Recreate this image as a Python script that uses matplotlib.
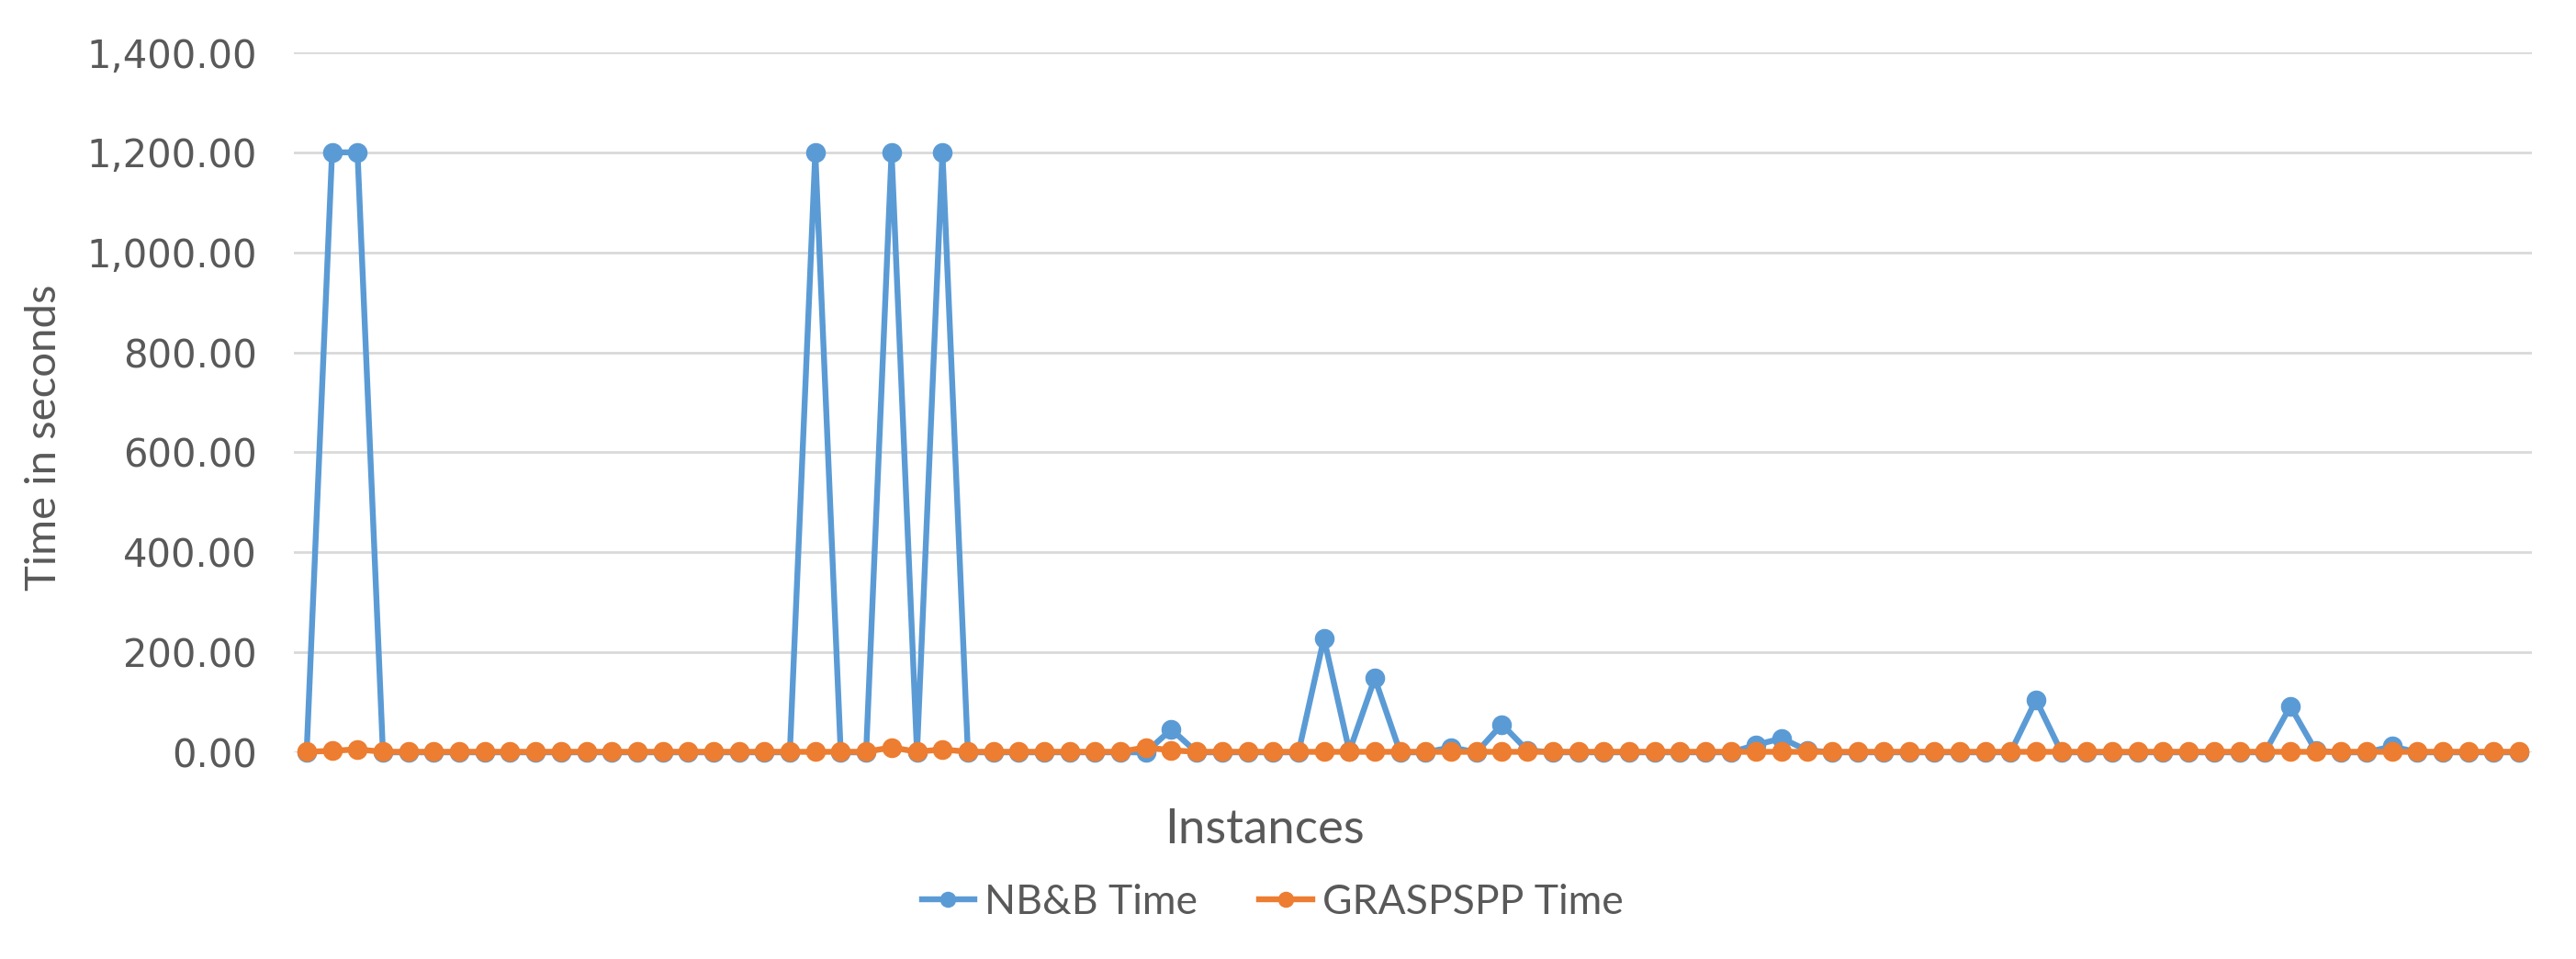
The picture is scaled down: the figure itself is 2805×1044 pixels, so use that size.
import matplotlib
matplotlib.use("Agg")
import matplotlib.pyplot as plt
from matplotlib.ticker import FuncFormatter
import numpy as np

# ---- data (88 instances) ----
nbb_time = [
    0, 1200, 1200, 0, 0, 0, 0, 0, 0, 0,
    0, 0, 0, 0, 0, 0, 0, 0, 0, 0,
    1200, 0, 0, 1200, 0, 1200, 0, 0, 0, 0,
    0, 0, 0, 0, 46, 0, 0, 0, 0, 0,
    228, 2, 148, 0, 0, 10, 0, 56, 4, 0,
    0, 0, 0, 0, 0, 0, 0, 15, 28, 4,
    0, 0, 0, 0, 0, 0, 0, 0, 105, 0,
    0, 0, 0, 0, 0, 0, 0, 0, 92, 3,
    0, 0, 12, 0, 0, 0, 0, 0,
]
grasp_time = [
    1, 3, 6, 1, 1, 1, 1, 1, 1, 1,
    1, 1, 1, 1, 1, 1, 1, 1, 1, 1,
    1, 1, 1, 10, 1, 6, 1, 1, 1, 1,
    1, 1, 1, 10, 4, 1, 1, 1, 1, 1,
    1, 1, 1, 1, 1, 1, 1, 1, 1, 1,
    1, 1, 1, 1, 1, 1, 1, 1, 1, 1,
    1, 1, 1, 1, 1, 1, 1, 1, 1, 1,
    1, 1, 1, 1, 1, 1, 1, 1, 1, 1,
    1, 1, 1, 1, 1, 1, 1, 1,
]
series_names = ["NB&B Time", "GRASPSPP Time"]
y_ticks = [0, 200, 400, 600, 800, 1000, 1200, 1400]
x_title = "Instances"
y_title = "Time in seconds"

BLUE = "#5B9BD5"
ORANGE = "#ED7D31"
TEXT = "#595959"
GRID = "#D9D9D9"

fig = plt.figure(figsize=(28.05, 10.44), dpi=100)
ax = fig.add_axes([0.1141, 0.2155, 0.9829 - 0.1141, 0.9454 - 0.2155])

x = np.arange(len(nbb_time))
ax.plot(x, nbb_time, color=BLUE, lw=4.6, marker="o", markersize=14.5,
        label=series_names[0], clip_on=False, zorder=3)
ax.plot(x, grasp_time, color=ORANGE, lw=4.6, marker="o", markersize=14.5,
        label=series_names[1], clip_on=False, zorder=4)

ax.set_xlim(-0.5, len(nbb_time) - 0.5)
ax.set_ylim(0, 1400)
ax.set_yticks(y_ticks)
ax.yaxis.set_major_formatter(FuncFormatter(lambda v, p: f"{v:,.2f}"))
ax.set_xticks([])
ax.tick_params(axis="y", length=0, pad=29, labelsize=30, labelcolor=TEXT)
for lab in ax.get_yticklabels():
    lab.set_family("DejaVu Sans")
ax.grid(axis="y", color=GRID, lw=2.0, zorder=0)
ax.set_axisbelow(True)
for s in ax.spines.values():
    s.set_visible(False)

fig.text(48 / 2805, 0.544, y_title, rotation=90, ha="center", va="center",
         fontsize=34, color=TEXT, family="Lato")
fig.text(0.491, 0.135, x_title, ha="center", va="center",
         fontsize=38, color=TEXT, family="Lato")

leg = fig.legend(loc="center", bbox_to_anchor=(0.494, 0.059), ncol=2,
                 frameon=False, prop={"family": "Lato", "size": 32},
                 handlelength=1.3, handletextpad=0.25, columnspacing=1.5,
                 markerscale=0.8, labelcolor=TEXT)

fig.savefig("out.png", dpi=100, facecolor="white")
